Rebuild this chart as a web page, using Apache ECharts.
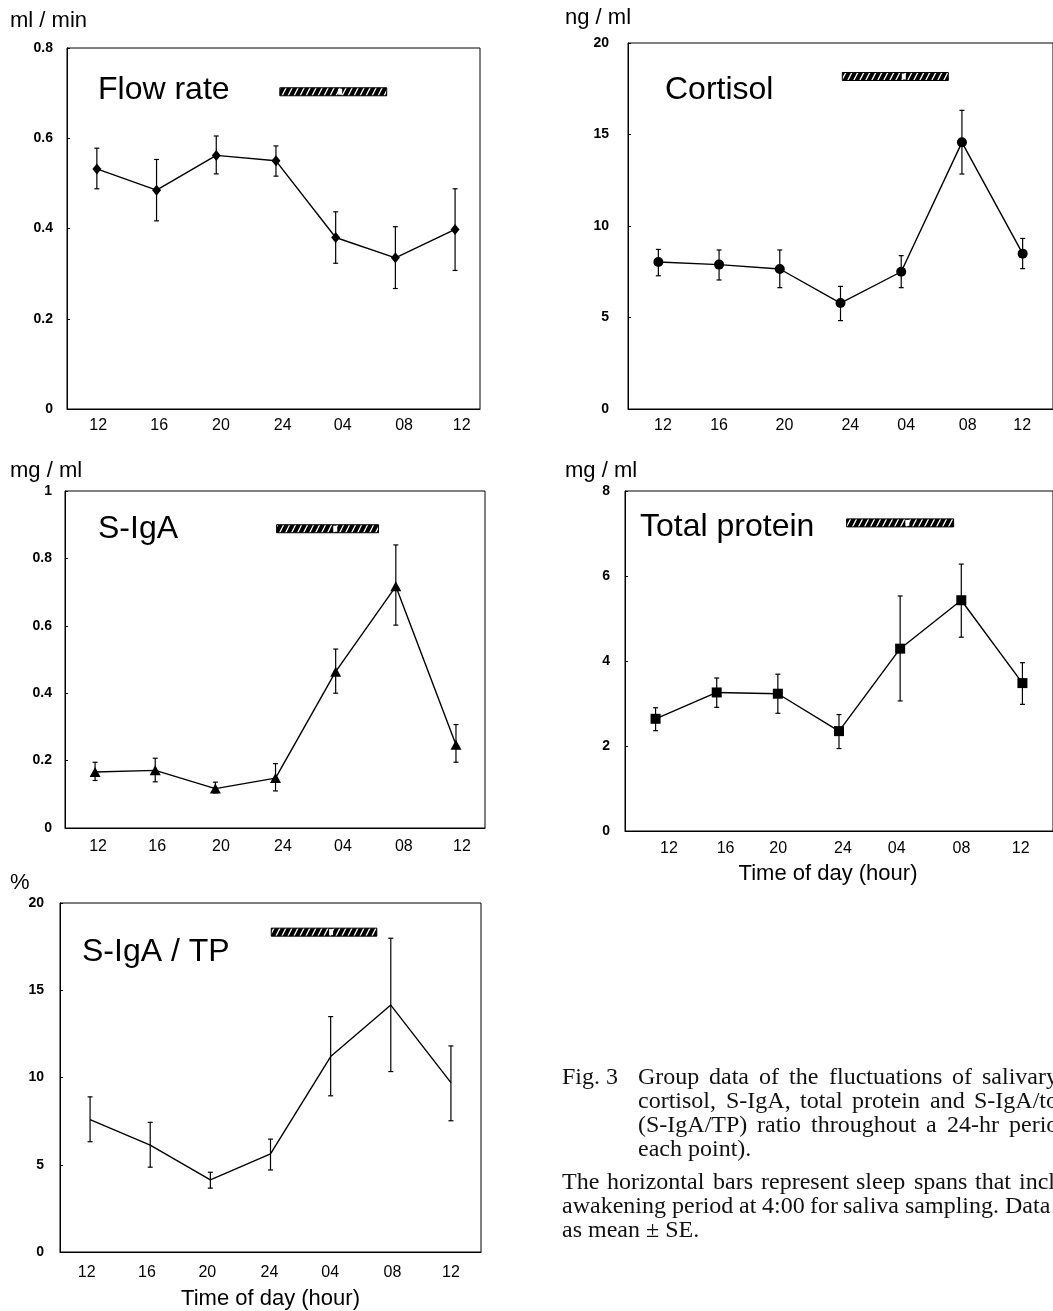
<!DOCTYPE html>
<html>
<head>
<meta charset="utf-8">
<script src="https://cdn.jsdelivr.net/npm/echarts@6/dist/echarts.min.js"></script>
<style>
html,body{margin:0;padding:0;background:#fff;}
#c{width:1053px;height:1311px;}
</style>
</head>
<body>
<div id="c"></div>
<script>
// ---- data ----
const sampleHours = [12, 16, 20, 24, 28, 32, 36];
const tickLabels = ['12', '16', '20', '24', '04', '08', '12'];
// where each panel's hand-placed tick labels sit, in hours
const tickPosFlow  = [12.09, 16.18, 20.31, 24.45, 28.47, 32.58, 36.44];
const tickPosCort  = [12.30, 16.00, 20.31, 24.65, 28.33, 32.38, 35.97];
const tickPosIga   = [12.20, 16.13, 20.37, 24.49, 28.48, 32.53, 36.40];
const tickPosTp    = [12.88, 16.58, 20.02, 24.26, 27.77, 32.01, 35.89];
const tickPosRatio = [11.78, 15.78, 19.80, 23.93, 27.97, 32.11, 36.00];

// Flow rate (ml / min), mean and mean±SE
const flowMean = [0.532, 0.485, 0.562, 0.550, 0.380, 0.335, 0.398];
const flowHigh = [0.578, 0.553, 0.605, 0.583, 0.437, 0.404, 0.488];
const flowLow  = [0.488, 0.417, 0.521, 0.516, 0.323, 0.267, 0.307];

// Cortisol (ng / ml)
const cortMean = [8.03, 7.89, 7.65, 5.79, 7.50, 14.57, 8.49];
const cortHigh = [8.72, 8.69, 8.69, 6.70, 8.38, 16.32, 9.32];
const cortLow  = [7.28, 7.05, 6.63, 4.83, 6.63, 12.84, 7.67];

// S-IgA (mg / ml)
const igaMean = [0.166, 0.171, 0.117, 0.148, 0.464, 0.717, 0.247];
const igaHigh = [0.195, 0.207, 0.136, 0.191, 0.531, 0.840, 0.307];
const igaLow  = [0.141, 0.137, 0.104, 0.110, 0.400, 0.602, 0.195];

// Total protein (mg / ml)
const tpMean = [2.64, 3.26, 3.23, 2.35, 4.29, 5.43, 3.48];
const tpHigh = [2.90, 3.60, 3.69, 2.74, 5.53, 6.28, 3.96];
const tpLow  = [2.36, 2.91, 2.77, 1.94, 3.06, 4.56, 2.98];

// S-IgA / TP (%)
const ratioMean = [7.58, 6.13, 4.13, 5.62, 11.20, 14.15, 9.71];
const ratioHigh = [8.89, 7.43, 4.57, 6.47, 13.49, 17.98, 11.81];
const ratioLow  = [6.32, 4.86, 3.66, 4.70, 8.95, 10.34, 7.52];

// Sleep bars: [start hour, end hour, awakening hour, level on y axis]
const sleepFlow  = [24.26, 31.42, 28.3, 0.703];
const sleepCort  = [24.12, 31.10, 28.17, 18.17];
const sleepIga   = [24.07, 30.85, 27.97, 0.888];
const sleepTp    = [24.50, 31.50, 28.47, 7.25];
const sleepRatio = [24.05, 31.07, 28.03, 18.33];

const captionLines1 = [
  'Group data of the fluctuations of salivary',
  'cortisol, S-IgA, total protein and S-IgA/to',
  '(S-IgA/TP) ratio throughout a 24-hr perio',
  'each point).'
];
const captionLines2 = [
  'The horizontal bars represent sleep spans that incl',
  'awakening period at 4:00 for saliva sampling. Data',
  'as mean \u00b1 SE.'
];

// ---- layout / styling ----
const SANS = '"Liberation Sans", Arial, Helvetica, sans-serif';
const SERIF = '"Liberation Serif", "Times New Roman", serif';

const panels = [
  {title: 'Flow rate', unit: 'ml / min', mean: flowMean, hi: flowHigh, lo: flowLow, sleep: sleepFlow, ticks: tickPosFlow,
   yMax: 0.8, yStep: 0.2, symbol: 'diamond', symbolSize: [9, 11],
   grid: {left: 67, top: 48, width: 413, height: 361}, xMax: 37.67, yMargin: 14, xMargin: 9,
   titlePos: [98, 93], unitPos: [10, 23]},
  {title: 'Cortisol', unit: 'ng / ml', mean: cortMean, hi: cortHigh, lo: cortLow, sleep: sleepCort, ticks: tickPosCort,
   yMax: 20, yStep: 5, symbol: 'circle', symbolSize: 10,
   grid: {left: 628, top: 43, width: 437, height: 366}, xMax: 38, yMargin: 19, xMargin: 9,
   titlePos: [665, 93], unitPos: [565, 20]},
  {title: 'S-IgA', unit: 'mg / ml', mean: igaMean, hi: igaHigh, lo: igaLow, sleep: sleepIga, ticks: tickPosIga,
   yMax: 1, yStep: 0.2, symbol: 'triangle', symbolSize: [11, 10],
   grid: {left: 65, top: 491, width: 420, height: 337}, xMax: 37.93, yMargin: 13, xMargin: 11,
   titlePos: [98, 532], unitPos: [10, 473]},
  {title: 'Total protein', unit: 'mg / ml', mean: tpMean, hi: tpHigh, lo: tpLow, sleep: sleepTp, ticks: tickPosTp,
   yMax: 8, yStep: 2, symbol: 'rect', symbolSize: 10,
   grid: {left: 625, top: 491, width: 438, height: 340}, xMax: 38, yMargin: 15, xMargin: 10,
   titlePos: [640, 530], unitPos: [565, 473], axisName: true, nameGap: 32, nameShift: 11},
  {title: 'S-IgA / TP', unit: '%', mean: ratioMean, hi: ratioHigh, lo: ratioLow, sleep: sleepRatio, ticks: tickPosRatio,
   yMax: 20, yStep: 5, symbol: 'none', symbolSize: 0,
   grid: {left: 60, top: 903, width: 421, height: 350}, xMax: 38, yMargin: 16, xMargin: 13,
   titlePos: [82, 955], unitPos: [10, 885], axisName: true, nameGap: 36, nameShift: 0}
];

// hatch pattern for sleep bars
const hatch = document.createElement('canvas');
hatch.width = 6; hatch.height = 12;
(function () {
  const g = hatch.getContext('2d');
  g.fillStyle = '#000';
  g.fillRect(0, 0, 6, 12);
  g.strokeStyle = '#fff';
  g.lineWidth = 1.25;
  [-6, 0, 6].forEach(function (dx) {
    g.beginPath(); g.moveTo(dx, 12); g.lineTo(dx + 6, 0); g.stroke();
  });
})();

function errorItem(params, api) {
  const x = api.value(0);
  const lo = api.coord([x, api.value(1)]);
  const hi = api.coord([x, api.value(2)]);
  const w = 2.5;
  const st = {stroke: '#000', lineWidth: 1.2};
  return {type: 'group', children: [
    {type: 'line', shape: {x1: hi[0], y1: hi[1], x2: lo[0], y2: lo[1]}, style: st},
    {type: 'line', shape: {x1: hi[0] - w, y1: hi[1], x2: hi[0] + w, y2: hi[1]}, style: st},
    {type: 'line', shape: {x1: lo[0] - w, y1: lo[1], x2: lo[0] + w, y2: lo[1]}, style: st}
  ]};
}

function sleepItem(params, api) {
  const lvl = api.value(3);
  const a = api.coord([api.value(0), lvl]);
  const b = api.coord([api.value(1), lvl]);
  const w = api.coord([api.value(2), lvl]);
  const h = 8;
  return {type: 'group', children: [
    {type: 'rect', shape: {x: a[0], y: a[1] - h / 2, width: b[0] - a[0], height: h},
     style: {fill: {image: hatch, repeat: 'repeat'}, stroke: '#000', lineWidth: 1}},
    {type: 'rect', shape: {x: w[0] - 2, y: a[1] - h / 2 + 1, width: 4, height: h - 2},
     style: {fill: '#fff'}}
  ]};
}

const grids = [], xAxes = [], yAxes = [], series = [], graphics = [];

panels.forEach(function (p, i) {
  grids.push(Object.assign({show: true, borderColor: '#000', borderWidth: 1, backgroundColor: '#fff'}, p.grid));
  const tickPos = p.ticks;
  const xa = {
    type: 'value', gridIndex: i, min: 10, max: p.xMax,
    splitLine: {show: false}, axisTick: {show: false},
    axisLine: {show: true, onZero: false, lineStyle: {color: '#000', width: 1}},
    axisLabel: {
      customValues: tickPos, margin: p.xMargin, color: '#000',
      fontFamily: SANS, fontSize: 16,
      formatter: function (v) {
        for (let k = 0; k < tickPos.length; k++) { if (Math.abs(tickPos[k] - v) < 0.005) return tickLabels[k]; }
        return '';
      }
    }
  };
  if (p.axisName) {
    xa.name = 'Time of day (hour)';
    xa.nameLocation = 'middle';
    xa.nameGap = p.nameGap;
    xa.nameTextStyle = {color: '#000', fontFamily: SANS, fontSize: 22, padding: [0, p.nameShift * 2, 0, 0]};
  }
  xAxes.push(xa);
  yAxes.push({
    type: 'value', gridIndex: i, min: 0, max: p.yMax, interval: p.yStep,
    splitLine: {show: false},
    axisLine: {show: true, lineStyle: {color: '#000', width: 1}},
    axisTick: {show: true, inside: true, length: 3, lineStyle: {color: '#000'}},
    axisLabel: {color: '#000', fontFamily: SANS, fontSize: 14, fontWeight: 'bold', margin: p.yMargin}
  });
  series.push({
    type: 'custom', xAxisIndex: i, yAxisIndex: i, z: 2,
    renderItem: errorItem, encode: {x: 0, y: [1, 2]},
    data: p.mean.map(function (m, k) { return [sampleHours[k], p.lo[k], p.hi[k]]; })
  });
  series.push({
    type: 'line', xAxisIndex: i, yAxisIndex: i, z: 3,
    symbol: p.symbol, symbolSize: p.symbolSize, showSymbol: p.symbol !== 'none',
    lineStyle: {color: '#000', width: 1.4},
    itemStyle: {color: '#000', borderWidth: 0},
    data: p.mean.map(function (m, k) { return [sampleHours[k], m]; })
  });
  series.push({
    type: 'custom', xAxisIndex: i, yAxisIndex: i, z: 4,
    renderItem: sleepItem, encode: {x: [0, 1], y: 3},
    data: [p.sleep]
  });
  graphics.push({type: 'text', left: p.titlePos[0], top: p.titlePos[1] - 19, z: 10,
    style: {text: p.title, font: '32px ' + SANS, fill: '#000'}});
  graphics.push({type: 'text', left: p.unitPos[0], top: p.unitPos[1] - 13, z: 10,
    style: {text: p.unit, font: '22px ' + SANS, fill: '#000'}});
});

// caption (justified lines, like the printed figure legend)
const CAP_FONT = '24px ' + SERIF;
const measureCtx = document.createElement('canvas').getContext('2d');
function addCaptionLine(text, x, top, rightX) {
  if (!rightX) {
    graphics.push({type: 'text', left: x, top: top, style: {text: text, font: CAP_FONT, fill: '#111'}});
    return;
  }
  measureCtx.font = CAP_FONT;
  const words = text.split(' ');
  const widths = words.map(function (w) { return measureCtx.measureText(w).width; });
  const total = widths.reduce(function (s, v) { return s + v; }, 0);
  const gap = Math.max((rightX - x - total) / (words.length - 1), 4);
  let cx = x;
  words.forEach(function (w, k) {
    graphics.push({type: 'text', left: Math.round(cx), top: top, style: {text: w, font: CAP_FONT, fill: '#111'}});
    cx += widths[k] + gap;
  });
}
const capRight1 = [1058, 1058, 1058, null];
const capRight2 = [1055, 1050, null];
addCaptionLine('Fig. 3', 562, 1066, null);
captionLines1.forEach(function (t, k) { addCaptionLine(t, 638, 1066 + k * 24, capRight1[k]); });
captionLines2.forEach(function (t, k) { addCaptionLine(t, 562, 1171 + k * 24, capRight2[k]); });

const chart = echarts.init(document.getElementById('c'), null, {renderer: 'canvas'});
chart.setOption({
  animation: false,
  backgroundColor: '#fff',
  textStyle: {fontFamily: SANS},
  grid: grids, xAxis: xAxes, yAxis: yAxes, series: series,
  graphic: graphics
});
</script>
</body>
</html>
